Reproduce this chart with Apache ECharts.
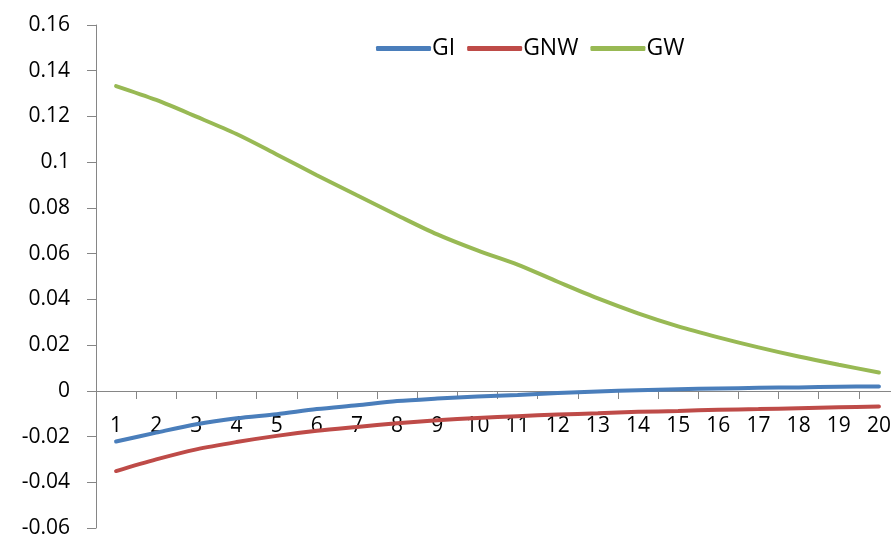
<!DOCTYPE html>
<html><head><meta charset="utf-8">
<script src="https://cdn.jsdelivr.net/npm/echarts@6/dist/echarts.min.js"></script>
<style>html,body{margin:0;padding:0;background:#fff}#c{width:891px;height:541px}</style>
</head><body><div id="c"></div>
<script>
var categories = ['1','2','3','4','5','6','7','8','9','10','11','12','13','14','15','16','17','18','19','20'];
var GI = [-0.0222,-0.0183,-0.0146,-0.0120,-0.0102,-0.0080,-0.0063,-0.0045,-0.0034,-0.0025,-0.0018,-0.0010,-0.0003,0.0003,0.0007,0.0010,0.0013,0.0015,0.0018,0.0019];
var GNW = [-0.0351,-0.0300,-0.0256,-0.0224,-0.0197,-0.0175,-0.0158,-0.0142,-0.0129,-0.0119,-0.0111,-0.0104,-0.0098,-0.0092,-0.0088,-0.0083,-0.0080,-0.0076,-0.0072,-0.0069];
var GW = [0.1333,0.1272,0.1199,0.1123,0.1034,0.0943,0.0855,0.0768,0.0684,0.0614,0.0552,0.0477,0.0404,0.0339,0.0282,0.0234,0.0190,0.0150,0.0114,0.0080];
var yTicks = {min:-0.06, max:0.16, interval:0.02};

var W = 891, H = 541;
var gridTop = 25, gridBottom = 13;
var plotH = H - gridTop - gridBottom;
var zeroOffset = -Math.round(plotH * (0 - yTicks.min) / (yTicks.max - yTicks.min));

var chart = echarts.init(document.getElementById('c'), null, {renderer:'canvas'});
var font = 'Open Sans';
function mk(name, data, color){
  return {name:name, type:'line', data:data, smooth:0.3, symbol:'none',
    lineStyle:{color:color, width:4, cap:'round'}, itemStyle:{color:color}};
}
chart.setOption({
  animation:false,
  grid:{left:96, right:-8, top:gridTop, bottom:gridBottom, containLabel:false, outerBoundsMode:'none'},
  legend:{top:32, left:371, itemWidth:55, itemHeight:5, itemGap:12, icon:'roundRect',
    textStyle:{fontFamily:font, fontSize:23, color:'#000', padding:[0,0,0,-4]},
    data:['GI','GNW','GW']},
  xAxis:{type:'category', data:categories, boundaryGap:true, position:'bottom', offset:zeroOffset,
    axisLine:{onZero:false, lineStyle:{color:'#868686', width:1}},
    axisTick:{show:true, length:8, lineStyle:{color:'#868686'}},
    axisLabel:{fontFamily:font, fontSize:21, color:'#000', margin:25, interval:0}},
  yAxis:{type:'value', min:yTicks.min, max:yTicks.max, interval:yTicks.interval,
    axisLine:{show:true, lineStyle:{color:'#868686'}},
    axisTick:{show:true, length:9, lineStyle:{color:'#868686'}},
    splitLine:{show:false},
    axisLabel:{fontFamily:font, fontSize:21, color:'#000', margin:26,
      formatter:function(v){ return parseFloat(v.toFixed(2)).toString(); }}},
  series:[mk('GI',GI,'#4a7ebb'), mk('GNW',GNW,'#be4b48'), mk('GW',GW,'#98b954')]
});
</script></body></html>
